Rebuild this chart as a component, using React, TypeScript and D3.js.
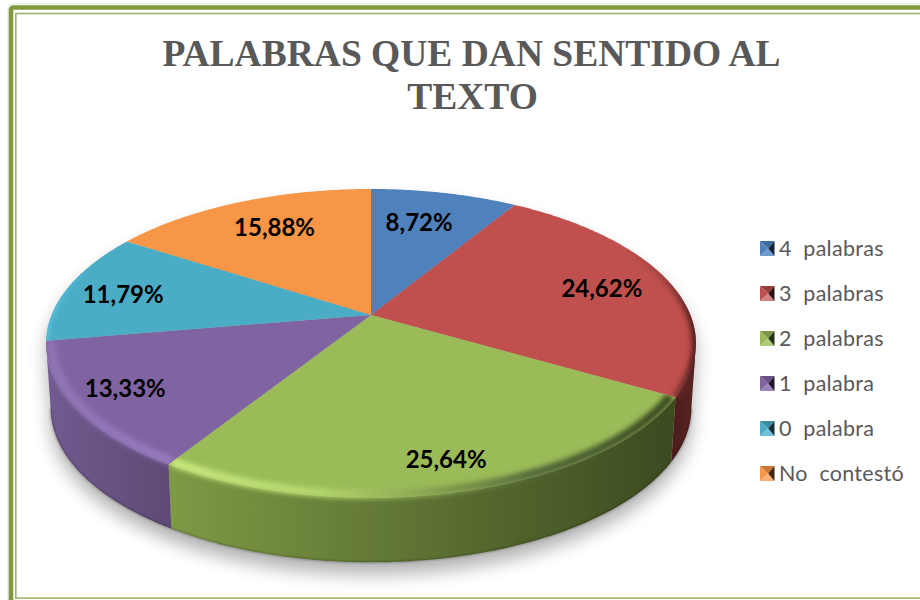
import React from "react";
import * as d3 from "d3";

const titleLines = ["PALABRAS QUE DAN SENTIDO AL", "TEXTO"];
const categories = ["4  palabras", "3  palabras", "2  palabras", "1  palabra", "0  palabra", "No  contestó"];
const values = [8.72, 24.62, 25.64, 13.33, 11.79, 15.88];
const labels = ["8,72%", "24,62%", "25,64%", "13,33%", "11,79%", "15,88%"];
const labelRadius = [0.73, 0.772, 0.839, 0.835, 0.81, 0.744];
const labelTurnDeg = [-2.2, 0, 0, 1.4, -1.2, 1.5];
const faceColors = ["#4f81bd", "#c0504d", "#9bbb59", "#8064a2", "#4bacc6", "#f79646"];
const sideLeft = ["#3d6696", "#4e1d1d", "#7f9a45", "#715b90", "#3d8ba0", "#c87a38"];
const sideRight = ["#3d6696", "#5a2423", "#3b4a20", "#5e4a75", "#3d8ba0", "#c87a38"];
const rimStops: [number, string, number][][] = [
  [],
  [[0, "#4e1d1d", 0], [0.45, "#8a3a38", 0.5], [1, "#4e1d1d", 1]],
  [[0, "#c9e97e", 1], [0.3, "#b4d56c", 1], [0.5, "#8da653", 1], [0.72, "#55693a", 1], [1, "#3b4a20", 1]],
  [[0, "#8f74b6", 1], [1, "#967abf", 1]],
  [[0, "#58c4e0", 1], [1, "#58c4e0", 0]],
  [],
];
const swatchLight = ["#6f9bd0", "#d0807e", "#adc97a", "#9a84b8", "#70c0d6", "#f7ae74"];
const swatchMid = ["#3f6a9e", "#963f3d", "#7b9646", "#664f82", "#3b8ca2", "#c67838"];
const swatchDark = ["#14243a", "#2e1010", "#252f12", "#1e1628", "#10303a", "#3e2410"];

const W = 920, H = 600;
const APEX_X = 371, APEX_Y = 315;
const R = 319.4, B = 149.2, K = 0.184;
const DEPTH = 64.5, BOTTOM_SCALE = 0.986;
const FRONT_FROM = (100.6 * Math.PI) / 180;
const FRONT_TO = (259.4 * Math.PI) / 180;
const rad = (d: number) => (d * Math.PI) / 180;

function project(a: number, r = 1): [number, number] {
  const u = Math.sin(a) * r;
  const v = -Math.cos(a) * r;
  const w = 1 - K * v;
  return [APEX_X + (R * u) / w, APEX_Y + (B * v) / w];
}
function projectBottom(a: number): [number, number] {
  const [x, y] = project(a);
  return [APEX_X + (x - APEX_X) * BOTTOM_SCALE, y + DEPTH];
}
function arcSamples(a0: number, a1: number): number[] {
  const n = Math.max(2, Math.ceil(Math.abs(a1 - a0) / 0.012));
  return d3.range(n + 1).map((i) => a0 + ((a1 - a0) * i) / n);
}
const line = d3.line();
const pie = d3.pie<number>().sort(null).startAngle(0).endAngle(Math.PI * 2);
const slices = pie(values);

function wedgePath(a0: number, a1: number) {
  const pts = arcSamples(a0, a1).map((a) => project(a));
  return line([[APEX_X, APEX_Y], ...pts])! + "Z";
}
function sidePath(a0: number, a1: number) {
  const s = arcSamples(a0, a1);
  return line([...s.map((a) => project(a)), ...s.slice().reverse().map(projectBottom)])! + "Z";
}
function rimPath(a0: number, a1: number, r: number) {
  return line(arcSamples(a0, a1).map((a) => project(a, r)))!;
}
const outlinePath = (() => {
  const top = arcSamples(FRONT_TO, FRONT_FROM + Math.PI * 2).map((a) => project(a));
  const bot = arcSamples(FRONT_FROM, FRONT_TO).map(projectBottom);
  return line([...top, ...bot])! + "Z";
})();
const bevelFrom = (i: number, a: number) => (i === 1 ? rad(62) : a);
const bevelTo = (i: number, a: number) => (i === 4 ? rad(288) : a);

export default function App() {
  const sy = d3.scalePoint<string>().domain(categories).range([248.5, 473.5]);
  return (
    <svg width={W} height={H} viewBox={`0 0 ${W} ${H}`} style={{ position: "absolute", left: 0, top: 0, background: "#fff" }}>
      <defs>
        <filter id="shadow" x="-20%" y="-20%" width="140%" height="150%"><feGaussianBlur stdDeviation="9" /></filter>
        <filter id="soft" x="-20%" y="-20%" width="140%" height="140%"><feGaussianBlur stdDeviation="2.6" /></filter>
        <filter id="softEdge" x="-20%" y="-20%" width="140%" height="140%"><feGaussianBlur stdDeviation="0.9" /></filter>
        {slices.map((s, i) => {
          const a0 = Math.max(s.startAngle, FRONT_FROM);
          const a1 = Math.min(s.endAngle, FRONT_TO);
          const xs = a1 > a0 ? [project(a0)[0], project(a1)[0]] : [45, 696];
          const from = Math.min(...xs), to = Math.max(...xs);
          const rimXs = [project(bevelFrom(i, s.startAngle))[0], project(bevelTo(i, s.endAngle))[0], i === 1 ? 696 : i === 4 ? 45 : project(bevelFrom(i, s.startAngle))[0]];
          const rimL = Math.min(...rimXs), rimR = Math.max(...rimXs);
          const rimTo = i === 2 ? [project(s.endAngle)[0], project(s.startAngle)[0]] : i === 4 ? [45, 100] : [rimL, i === 1 ? 696 : rimR];
          return (
            <g key={i}>
              <linearGradient id={`side${i}`} gradientUnits="userSpaceOnUse" x1={from} x2={to} y1="0" y2="0">
                <stop offset="0" stopColor={sideLeft[i]} />
                <stop offset="1" stopColor={sideRight[i]} />
              </linearGradient>
              <linearGradient id={`rim${i}`} gradientUnits="userSpaceOnUse" x1={rimTo[0]} x2={rimTo[1]} y1="0" y2="0">
                {rimStops[i].map(([o, c, op], j) => (
                  <stop key={j} offset={o} stopColor={c} stopOpacity={op} />
                ))}
              </linearGradient>
              <clipPath id={`clip${i}`}>
                <path d={wedgePath(s.startAngle, s.endAngle)} />
                {a1 > a0 && <path d={sidePath(a0, a1)} />}
              </clipPath>
            </g>
          );
        })}
      </defs>

      {/* frame */}
      <rect x="8" y="4" width="930" height="620" fill="none" stroke="#dfe6cf" strokeWidth="1" rx="3" />
      <rect x="11" y="7.5" width="930" height="620" fill="none" stroke="#7f9a3f" strokeWidth="4.6" rx="2" />
      <rect x="15.8" y="13.5" width="930" height="584.6" fill="none" stroke="#9db36b" strokeWidth="1.6" />

      {/* title */}
      <g fontFamily="'Liberation Serif', serif" fontWeight="700" fontSize="37.5" fill="#595959" textAnchor="middle">
        <text x={471.5} y={66}>{titleLines[0]}</text>
        <text x={472.5} y={109}>{titleLines[1]}</text>
      </g>

      {/* shadow */}
      <path d={outlinePath} fill="#000" opacity="0.3" transform="translate(0 12)" filter="url(#shadow)" />

      {/* sides */}
      {slices.map((s, i) => {
        const a0 = Math.max(s.startAngle, FRONT_FROM);
        const a1 = Math.min(s.endAngle, FRONT_TO);
        return a1 > a0 ? <path key={i} d={sidePath(a0, a1)} fill={`url(#side${i})`} /> : null;
      })}
      {slices.map((s, i) => {
        const a0 = Math.max(s.startAngle, FRONT_FROM);
        const a1 = Math.min(s.endAngle, FRONT_TO);
        return a1 > a0 ? (
          <path key={i} d={line(arcSamples(a0, a1).map(projectBottom))!} fill="none" stroke="#000" strokeOpacity="0.3" strokeWidth="1.6" filter="url(#softEdge)" />
        ) : null;
      })}

      {/* faces */}
      {slices.map((s, i) => (
        <path key={i} d={wedgePath(s.startAngle, s.endAngle)} fill={faceColors[i]} />
      ))}

      {/* bevel */}
      {slices.map((s, i) => {
        if (rimStops[i].length === 0) return null;
        return (
          <g key={i} clipPath={`url(#clip${i})`}>
            <path
              d={rimPath(bevelFrom(i, s.startAngle), bevelTo(i, s.endAngle), i === 1 || i === 4 ? 1 : 0.985)}
              fill="none"
              stroke={`url(#rim${i})`}
              strokeWidth={i === 4 ? 5 : i === 1 ? 9 : 9}
              filter="url(#soft)"
            />
          </g>
        );
      })}

      {/* data labels */}
      <g fontFamily="Lato, sans-serif" fontWeight="700" fontSize="24" fill="#000" textAnchor="middle" dominantBaseline="central">
        {slices.map((s, i) => {
          const [x, y] = project((s.startAngle + s.endAngle) / 2 + rad(labelTurnDeg[i]), labelRadius[i]);
          return <text key={i} x={x} y={y}>{labels[i]}</text>;
        })}
      </g>

      {/* legend */}
      {categories.map((c, i) => {
        const y = sy(c)!;
        const x0 = 760, x1 = 774.5, y0 = y - 7.5, y1 = y + 7.5, cx = (x0 + x1) / 2 + 1;
        return (
          <g key={c}>
            <polygon points={`${x0},${y0} ${x1},${y0} ${cx},${y}`} fill={swatchMid[i]} />
            <polygon points={`${x0},${y0} ${cx},${y} ${x0},${y1}`} fill={faceColors[i]} />
            <polygon points={`${x0},${y1} ${cx},${y} ${x1},${y1}`} fill={swatchLight[i]} />
            <polygon points={`${x1},${y0} ${cx},${y} ${x1},${y1}`} fill={swatchDark[i]} />
            <text x={779} y={y} dy="0.35em" fontFamily="Lato, sans-serif" fontSize="21.5" fill="#595959" style={{ whiteSpace: "pre" }} letterSpacing="0.28">{c}</text>
          </g>
        );
      })}
    </svg>
  );
}
